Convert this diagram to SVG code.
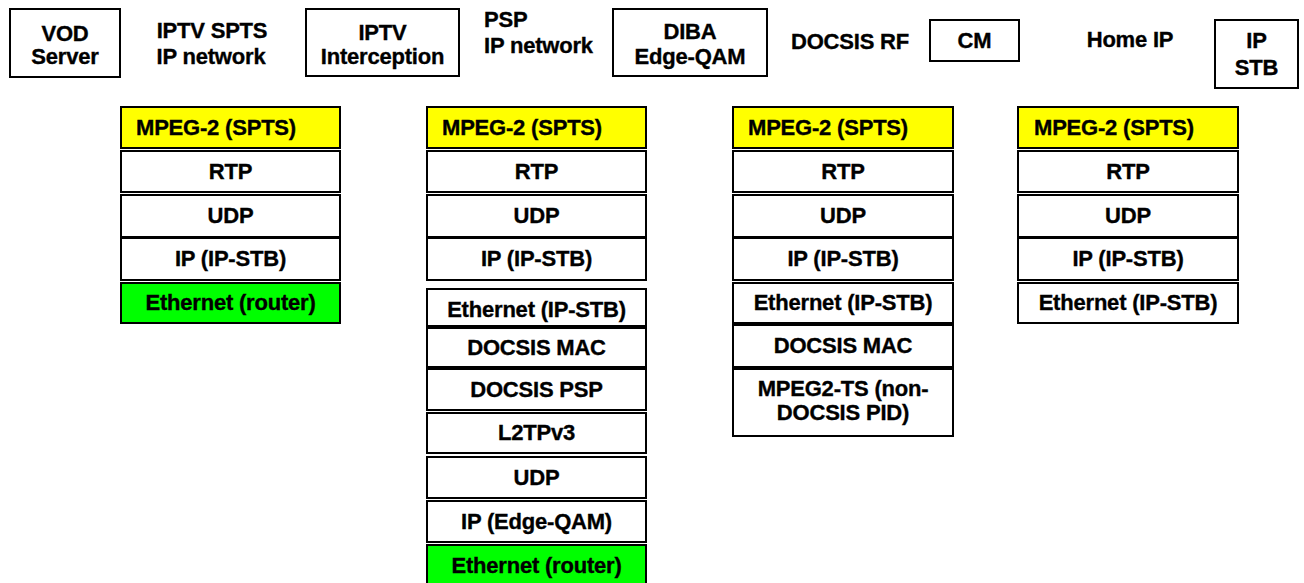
<svg xmlns="http://www.w3.org/2000/svg" width="1304" height="583" viewBox="0 0 1304 583">
<style>
text{font-family:"Liberation Sans",Arial,sans-serif;font-weight:bold;font-size:22px;letter-spacing:-0.2px;fill:#000;stroke:#000;stroke-width:0.35}
.c{text-anchor:middle}
.box{fill:#fff;stroke:#000;stroke-width:2}
.l{fill:#fff;stroke:#000;stroke-width:2}
.y{fill:#ffff00;stroke:#000;stroke-width:2}
.g{fill:#00ff00;stroke:#000;stroke-width:2}
</style>
<rect width="1304" height="583" fill="#fff"/>
<g id="vod-server"><rect class="box" x="10" y="9" width="110" height="68"/><text class="c" x="65" y="41">VOD</text><text class="c" x="65" y="64">Server</text></g>
<g id="iptv-spts-network"><text class="c" x="212" y="38">IPTV SPTS</text><text class="c" x="211" y="64">IP network</text></g>
<g id="iptv-interception"><rect class="box" x="306" y="9" width="153" height="67"/><text class="c" x="382.5" y="40">IPTV</text><text class="c" x="382.5" y="64">Interception</text></g>
<g id="psp-network"><text x="484" y="27">PSP</text><text x="484" y="53">IP network</text></g>
<g id="diba-edge-qam"><rect class="box" x="613" y="9" width="154" height="67"/><text class="c" x="690" y="39">DIBA</text><text class="c" x="690" y="64">Edge-QAM</text></g>
<g id="docsis-rf"><text class="c" x="850" y="49">DOCSIS RF</text></g>
<g id="cm"><rect class="box" x="930" y="20" width="89" height="41"/><text class="c" x="974.5" y="48">CM</text></g>
<g id="home-ip"><text class="c" x="1130" y="47">Home IP</text></g>
<g id="ip-stb"><rect class="box" x="1215" y="20" width="83" height="68"/><text class="c" x="1256.5" y="48">IP</text><text class="c" x="1256.5" y="75">STB</text></g>

<g id="stack-vod">
<rect class="y" x="121" y="107" width="219" height="41"/><text x="136" y="135">MPEG-2 (SPTS)</text>
<rect class="l" x="121" y="151" width="219" height="41"/><text class="c" x="230.5" y="179">RTP</text>
<rect class="l" x="121" y="195" width="219" height="42"/><text class="c" x="230.5" y="223">UDP</text>
<rect class="l" x="121" y="238" width="219" height="42"/><text class="c" x="230.5" y="266">IP (IP-STB)</text>
<rect class="g" x="121" y="283" width="219" height="40"/><text class="c" x="230.5" y="310">Ethernet (router)</text>
</g>

<g id="stack-psp">
<rect class="y" x="427" y="107" width="219" height="41"/><text x="442" y="135">MPEG-2 (SPTS)</text>
<rect class="l" x="427" y="151" width="219" height="41"/><text class="c" x="536.5" y="179">RTP</text>
<rect class="l" x="427" y="195" width="219" height="42"/><text class="c" x="536.5" y="223">UDP</text>
<rect class="l" x="427" y="238" width="219" height="42"/><text class="c" x="536.5" y="266">IP (IP-STB)</text>
<rect class="l" x="427" y="289" width="219" height="37"/><text class="c" x="536.5" y="317">Ethernet (IP-STB)</text>
<rect class="l" x="427" y="328" width="219" height="39"/><text class="c" x="536.5" y="355">DOCSIS MAC</text>
<rect class="l" x="427" y="369" width="219" height="41"/><text class="c" x="536.5" y="397">DOCSIS PSP</text>
<rect class="l" x="427" y="413" width="219" height="40"/><text class="c" x="536.5" y="440">L2TPv3</text>
<rect class="l" x="427" y="457" width="219" height="41"/><text class="c" x="536.5" y="485">UDP</text>
<rect class="l" x="427" y="501" width="219" height="41"/><text class="c" x="536.5" y="529">IP (Edge-QAM)</text>
<rect class="g" x="427" y="545" width="219" height="42"/><text class="c" x="536.5" y="573">Ethernet (router)</text>
</g>

<g id="stack-cm">
<rect class="y" x="733" y="107" width="220" height="41"/><text x="748" y="135">MPEG-2 (SPTS)</text>
<rect class="l" x="733" y="151" width="220" height="41"/><text class="c" x="843" y="179">RTP</text>
<rect class="l" x="733" y="195" width="220" height="42"/><text class="c" x="843" y="223">UDP</text>
<rect class="l" x="733" y="238" width="220" height="42"/><text class="c" x="843" y="266">IP (IP-STB)</text>
<rect class="l" x="733" y="283" width="220" height="40"/><text class="c" x="843" y="310">Ethernet (IP-STB)</text>
<rect class="l" x="733" y="325" width="220" height="42"/><text class="c" x="843" y="353">DOCSIS MAC</text>
<rect class="l" x="733" y="369" width="220" height="67"/><text class="c" x="843" y="396">MPEG2-TS (non-</text><text class="c" x="843" y="420">DOCSIS PID)</text>
</g>

<g id="stack-stb">
<rect class="y" x="1018" y="107" width="220" height="41"/><text x="1034" y="135">MPEG-2 (SPTS)</text>
<rect class="l" x="1018" y="151" width="220" height="41"/><text class="c" x="1128" y="179">RTP</text>
<rect class="l" x="1018" y="195" width="220" height="42"/><text class="c" x="1128" y="223">UDP</text>
<rect class="l" x="1018" y="238" width="220" height="42"/><text class="c" x="1128" y="266">IP (IP-STB)</text>
<rect class="l" x="1018" y="283" width="220" height="40"/><text class="c" x="1128" y="310">Ethernet (IP-STB)</text>
</g>
<g id="connectors"/>
</svg>
